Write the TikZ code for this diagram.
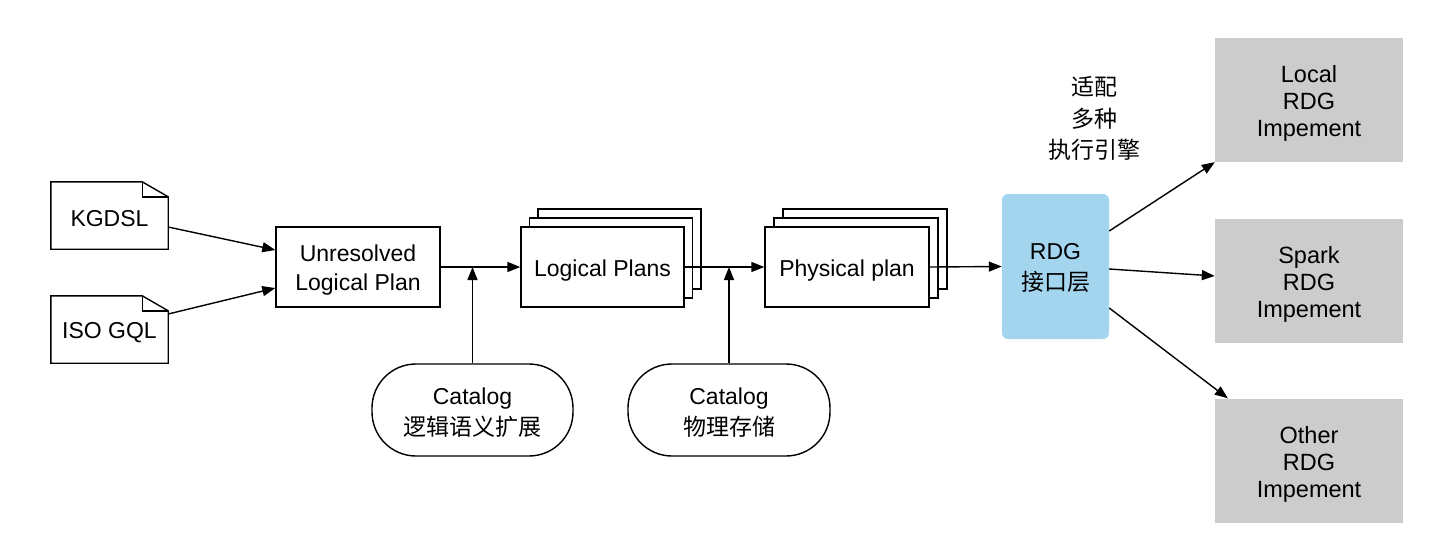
\documentclass[tikz,border=0pt]{standalone}
\usepackage{fontspec}
\setmainfont{Liberation Sans}
\newfontfamily\cjk{Noto Sans CJK SC}
\usetikzlibrary{arrows.meta,calc}
\definecolor{rdgblue}{HTML}{A3D5EE}
\definecolor{implgray}{HTML}{CCCCCC}
\begin{document}
\begin{tikzpicture}[x=1pt,y=-1pt,
  every node/.style={font=\fontsize{23}{29}\selectfont, align=center, inner sep=0pt},
  lowered/.style={execute at begin node={\rule{0pt}{23pt}}},
  line/.style={line width=1.4pt},
  planbox/.style={draw, line width=1.4pt, fill=white, minimum width=164pt, minimum height=80pt},
  catbox/.style={draw, line width=1.4pt, rounded corners=44pt, minimum height=92pt, text height=53.5pt, font=\fontsize{23}{31}\selectfont},
  implbox/.style={fill=implgray, minimum width=188pt, minimum height=124pt, text height=78.8pt, font=\fontsize{23.5}{27}\selectfont},
  arr/.style={line width=1.4pt, -{Triangle[length=13pt,width=10pt]}},
]
\useasboundingbox (0,0) rectangle (1450,552);

% source documents
\node[minimum width=117pt, minimum height=67pt, lowered] (kg) at (109.5,215.5) {KGDSL};
\draw[line] (kg.north west) -- ([xshift=-26pt]kg.north east) -- ([yshift=-15pt]kg.north east) -- (kg.south east) -- (kg.south west) -- cycle;
\draw[line] ([xshift=-26pt]kg.north east) -- ([xshift=-26pt,yshift=-15pt]kg.north east) -- ([yshift=-15pt]kg.north east);

\node[minimum width=117pt, minimum height=67pt, lowered] (gql) at (109.5,329.5) {ISO GQL};
\draw[line] (gql.north west) -- ([xshift=-26pt]gql.north east) -- ([yshift=-15pt]gql.north east) -- (gql.south east) -- (gql.south west) -- cycle;
\draw[line] ([xshift=-26pt]gql.north east) -- ([xshift=-26pt,yshift=-15pt]gql.north east) -- ([yshift=-15pt]gql.north east);

% unresolved
\node[planbox, text height=51.5pt] (unres) at (358,267) {Unresolved\\Logical Plan};

% logical plans stack
\node[planbox, minimum width=163pt] (lp3) at (619.5,249) {};
\node[planbox, minimum width=163pt] (lp2) at (611,258) {};
\node[planbox, minimum width=163pt, lowered] (lp) at (602.5,267) {Logical Plans};

% physical plan stack
\node[planbox] (pp3) at (865,249) {};
\node[planbox] (pp2) at (856,258) {};
\node[planbox, lowered] (pp) at (847,267) {Physical plan};

% catalogs
\node[catbox, minimum width=201pt] (cat1) at (472.5,410) {Catalog\\{\cjk 逻辑语义扩展}};
\node[catbox, minimum width=202pt] (cat2) at (729,410) {Catalog\\{\cjk 物理存储}};

% RDG layer
\node[fill=rdgblue, rounded corners=6pt, minimum width=107pt, minimum height=145pt, text height=50.8pt, font=\fontsize{23}{31}\selectfont] (rdg) at (1055.5,266.5) {RDG\\{\cjk 接口层}};
\node[font=\cjk\fontsize{23}{31.5}\selectfont] (adapt) at (1094,118.5) {适配\\多种\\执行引擎};

% implementations
\node[implbox] (local) at (1309,100) {Local\\RDG\\Impement};
\node[implbox] (spark) at (1309,280.5) {Spark\\RDG\\Impement};
\node[implbox] (other) at (1309,460.5) {Other\\RDG\\Impement};

% connectors
\draw[arr] ([yshift=-11.5pt]kg.east) -- ([yshift=17pt]unres.west);
\draw[arr] ([yshift=15.5pt]gql.east) -- ([yshift=-21pt]unres.west);
\draw[arr] (unres.east) -- (lp.west);
\draw[arr] (lp.east) -- (pp.west);
\draw[arr] (pp.east) -- (rdg.west);
\draw[arr] (cat1.north) -- (cat1.north |- unres.east);
\draw[arr] (cat2.north) -- (cat2.north |- lp.east);
\draw[arr] ([yshift=35.5pt]rdg.east) -- (local.south west);
\draw[arr] ([yshift=-2.5pt]rdg.east) -- ([yshift=4.5pt]spark.west);
\draw[arr] ([yshift=-41.5pt]rdg.east) -- ([xshift=13pt]other.north west);
\end{tikzpicture}
\end{document}
